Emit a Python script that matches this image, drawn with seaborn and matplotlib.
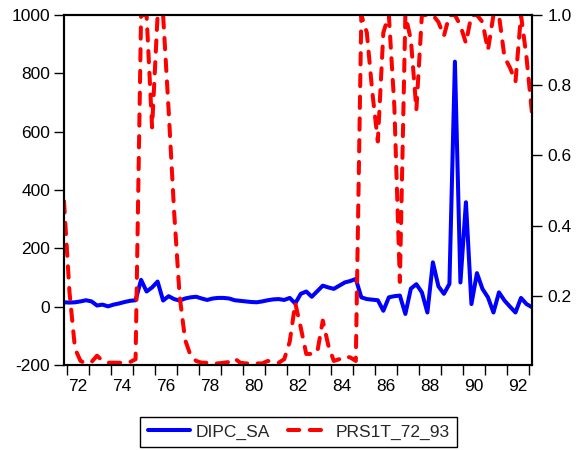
import matplotlib
matplotlib.use("Agg")
import matplotlib.pyplot as plt
import seaborn as sns
import pandas as pd

# ---- data (quarterly, 1971Q4 .. 1993Q1) ----
first_quarter = "1971Q4"
dipc_sa = [15, 14, 15, 18, 22, 18, 4, 7, 1, 7,
           11, 16, 20, 22, 92, 52, 66, 86, 21, 36,
           26, 21, 28, 32, 34, 28, 23, 28, 30, 30,
           28, 22, 20, 18, 16, 15, 18, 22, 25, 26,
           23, 30, 11, 44, 52, 34, 53, 72, 66, 61,
           72, 83, 88, 95, 32, 26, 24, 22, -14, 32,
           36, 38, -25, 62, 77, 49, -20, 152, 70, 44,
           78, 840, 83, 358, 9, 115, 61, 32, -20, 49,
           21, 0, -20, 30, 9, -2]
prs1t_72_93 = [0.47, 0.21, 0.05, 0.015, 0.008, 0.012, 0.03, 0.015, 0.01, 0.01,
               0.01, 0.01, 0.012, 0.02, 1.0, 1.0, 0.68, 1.0, 1.0, 0.73,
               0.44, 0.2, 0.075, 0.03, 0.015, 0.01, 0.01, 0.008, 0.008, 0.01,
               0.012, 0.022, 0.01, 0.008, 0.008, 0.008, 0.008, 0.015, 0.012, 0.01,
               0.02, 0.07, 0.18, 0.11, 0.035, 0.035, 0.04, 0.13, 0.06, 0.015,
               0.02, 0.028, 0.025, 0.015, 1.0, 0.95, 0.78, 0.64, 0.95, 1.0,
               0.74, 0.24, 1.0, 0.93, 0.73, 1.0, 1.0, 1.0, 0.98, 0.94,
               1.0, 1.0, 0.97, 0.92, 1.0, 1.0, 0.98, 0.9, 1.0, 1.0,
               0.88, 0.85, 0.81, 1.0, 0.88, 0.72]
left_ticks = [-200, 0, 200, 400, 600, 800, 1000]
right_ticks = [0.2, 0.4, 0.6, 0.8, 1.0]
year_ticks = list(range(72, 94))
year_labels = ["72", "74", "76", "78", "80", "82", "84", "86", "88", "90", "92"]

quarters = pd.period_range(first_quarter, periods=len(dipc_sa), freq="Q")
t = (quarters.year - 1900) + (quarters.quarter - 0.5) / 4.0
df = pd.DataFrame({"t": t, "DIPC_SA": dipc_sa, "PRS1T_72_93": prs1t_72_93})

sns.set_theme(style="ticks")
plt.rcParams['font.family'] = ['Liberation Sans', 'DejaVu Sans']

W, H = 578, 450
fig = plt.figure(figsize=(W / 100, H / 100), dpi=100)
ax = fig.add_axes([64 / W, 1 - 365 / H, (532 - 64) / W, 350 / H])
ax2 = ax.twinx()

sns.lineplot(data=df, x="t", y="DIPC_SA", ax=ax, color="#0000ff",
             linewidth=2.9, legend=False, solid_joinstyle='round',
             solid_capstyle='round')
sns.lineplot(data=df, x="t", y="PRS1T_72_93", ax=ax2, color="#ff0000",
             linewidth=2.9, legend=False, dash_joinstyle='round',
             dash_capstyle='round')
ax2.lines[0].set_dashes((2.8, 2.6))
ax.lines[0].set_label("DIPC_SA")
ax2.lines[0].set_label("PRS1T_72_93")

ax.set_xlim(t[0], t[-1])
ax.set_ylim(-200, 1000)
ax.set_yticks(left_ticks)
ax.set_yticklabels([str(v) for v in left_ticks])
ax2.set_ylim(0.0035, 1.0)
ax2.set_yticks(right_ticks)
ax2.set_yticklabels([f"{v:.1f}" for v in right_ticks])

ax.set_xticks(year_ticks)
ax.set_xticklabels([])
ax.set_xticks([int(s) + 0.5 for s in year_labels], minor=True)
ax.set_xticklabels(year_labels, minor=True)

for a in (ax, ax2):
    a.set_xlabel("")
    a.set_ylabel("")
    a.grid(False)
    for sp in a.spines.values():
        sp.set_color("black")
        sp.set_linewidth(1.5)

fs = 12.5
ax.tick_params(axis='x', which='major', length=7, width=1, color='black', direction='out')
ax.tick_params(axis='x', which='minor', length=0, pad=10, labelsize=fs, labelcolor='black')
ax.tick_params(axis='y', length=7, width=1, color='black', pad=3, labelsize=fs, labelcolor='black')
ax2.tick_params(axis='y', length=7, width=1, color='black', pad=4, labelsize=fs, labelcolor='black')

leg = fig.legend(handles=[ax.lines[0], ax2.lines[0]],
                 labels=["DIPC_SA", "PRS1T_72_93"],
                 loc='center', bbox_to_anchor=(0.517, 1 - 432 / H),
                 bbox_transform=fig.transFigure, ncol=2, frameon=True,
                 fancybox=False, edgecolor='black', framealpha=1,
                 fontsize=fs, handlelength=2.4, handletextpad=0.35,
                 columnspacing=1.0, borderpad=0.45)
leg.get_frame().set_linewidth(1.0)

fig.savefig("out.png", dpi=100, facecolor="white")
